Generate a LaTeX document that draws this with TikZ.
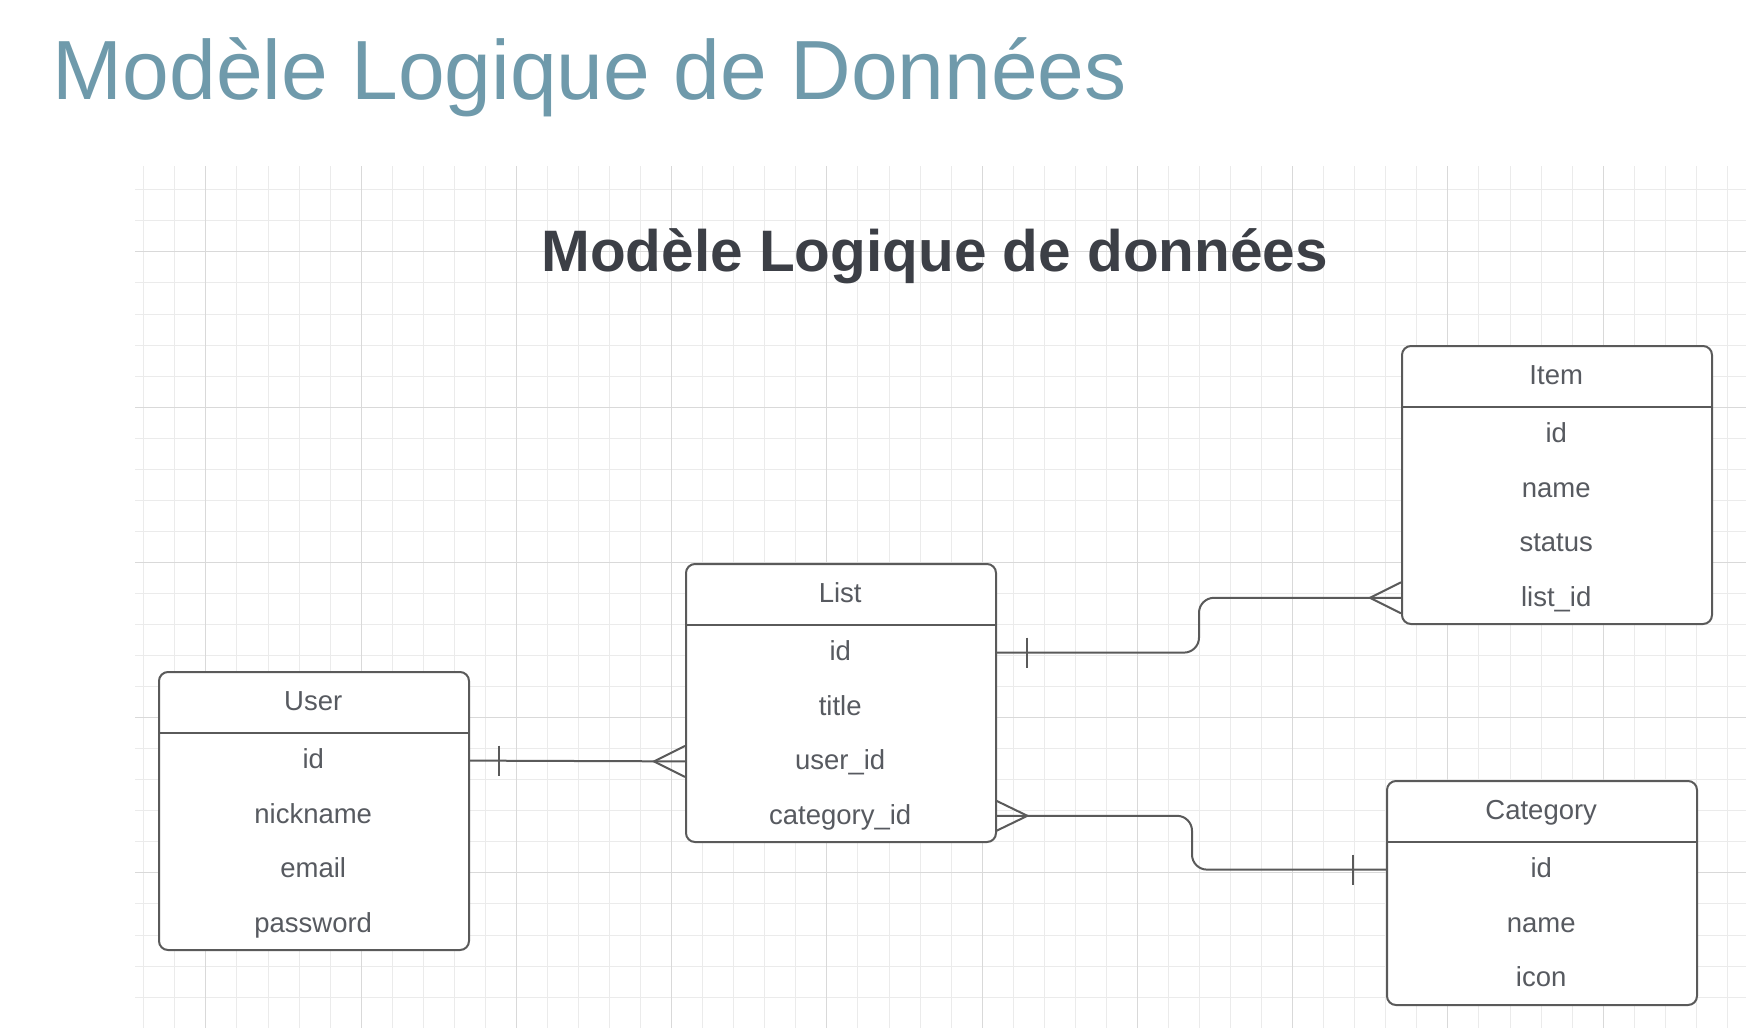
\documentclass[tikz,border=0pt]{standalone}
\usepackage{fontspec}
\setmainfont{Liberation Sans}
\usetikzlibrary{calc}
\definecolor{titleblue}{HTML}{6F9AAB}
\definecolor{gridminor}{HTML}{EBEBEB}
\definecolor{gridmajor}{HTML}{D9D9D9}
\definecolor{boxline}{HTML}{5A5A5A}
\definecolor{txtgray}{HTML}{575A60}
\definecolor{darktitle}{HTML}{3C3F46}
\begin{document}
\begin{tikzpicture}[x=1pt,y=-1pt,
  entbox/.style={draw=boxline, line width=2pt, rounded corners=9pt, minimum width=310pt, inner sep=0pt, fill=white, anchor=north west},
  cell/.style={minimum width=310pt, inner sep=0pt, text height=20pt, text depth=3.5pt, text=txtgray, font=\fontsize{27.5}{32}\selectfont},
  hdr/.style={cell, minimum height=62pt, anchor=north west},
  rowc/.style={cell, minimum height=54pt, anchor=north},
  sep/.style={draw=boxline, line width=2pt},
  conn/.style={draw=boxline, line width=2pt},
  gminor/.style={draw=gridminor, line width=1pt},
  gmajor/.style={draw=gridmajor, line width=1pt}]
\useasboundingbox (0,0) rectangle (1746,1028);
\fill[white] (0,0) rectangle (1746,1028);
% grid
\begin{scope}
\clip (135,166) rectangle (1746,1028);
\foreach \k in {0,...,51} {\pgfmathsetmacro{\gx}{round(143.3+31.05*\k)+0.5}\draw[gminor] (\gx,166) -- (\gx,1028);}
\foreach \k in {0,...,27} {\pgfmathsetmacro{\gy}{round(189.3+31.05*\k)+0.5}\draw[gminor] (135,\gy) -- (1746,\gy);}
\foreach \k in {2,7,...,47} {\pgfmathsetmacro{\gx}{round(143.3+31.05*\k)+0.5}\draw[gmajor] (\gx,166) -- (\gx,1028);}
\foreach \k in {2,7,...,27} {\pgfmathsetmacro{\gy}{round(189.3+31.05*\k)+0.5}\draw[gmajor] (135,\gy) -- (1746,\gy);}
\end{scope}
% titles
\node[anchor=base west, inner sep=0pt, font=\fontsize{84}{90}\selectfont, text=titleblue] (maintitle) at (52.5,99.5) {Modèle Logique de Données};
\node[anchor=base, inner sep=0pt, font=\bfseries\fontsize{58.5}{66}\selectfont, text=darktitle] (subtitle) at (934.7,271) {Modèle Logique de données};
% User
\node[entbox, minimum height=278pt] (user) at (158,671) {};
\node[hdr] (user-title) at (user.north west) {User};
\draw[sep] (user-title.south west) -- (user-title.south east);
\node[rowc] (user-id) at (user-title.south) {id};
\node[rowc] (user-nick) at (user-id.south) {nickname};
\node[rowc] (user-email) at (user-nick.south) {email};
\node[rowc] (user-pw) at (user-email.south) {password};
% List
\node[entbox, minimum height=278pt] (list) at (685,563) {};
\node[hdr] (list-title) at (list.north west) {List};
\draw[sep] (list-title.south west) -- (list-title.south east);
\node[rowc] (list-id) at (list-title.south) {id};
\node[rowc] (list-title2) at (list-id.south) {title};
\node[rowc] (list-userid) at (list-title2.south) {user\_id};
\node[rowc] (list-catid) at (list-userid.south) {category\_id};
% Item
\node[entbox, minimum height=278pt] (item) at (1401,345) {};
\node[hdr] (item-title) at (item.north west) {Item};
\draw[sep] (item-title.south west) -- (item-title.south east);
\node[rowc] (item-id) at (item-title.south) {id};
\node[rowc] (item-name) at (item-id.south) {name};
\node[rowc] (item-status) at (item-name.south) {status};
\node[rowc] (item-listid) at (item-status.south) {list\_id};
% Category
\node[entbox, minimum height=224pt] (cat) at (1386,780) {};
\node[hdr] (cat-title) at (cat.north west) {Category};
\draw[sep] (cat-title.south west) -- (cat-title.south east);
\node[rowc] (cat-id) at (cat-title.south) {id};
\node[rowc] (cat-name) at (cat-id.south) {name};
\node[rowc] (cat-icon) at (cat-name.south) {icon};
% helper x positions for the bends
\coordinate (bendA) at (1199,0);
\coordinate (bendB) at (1192,0);
% User -- List
\draw[conn] (user-id.east) -- (list-userid.west);
\draw[conn] ($(user-id.east)+(31,-15)$) -- ($(user-id.east)+(31,15)$);
\draw[conn] ($(list-userid.west)+(0,-15.5)$) -- ($(list-userid.west)+(-31,0)$) -- ($(list-userid.west)+(0,15.5)$);
% List -- Item
\draw[conn, rounded corners=15pt] (list-id.east) -| (bendA |- item-listid.west) -- (item-listid.west);
\draw[conn] ($(list-id.east)+(32,-15)$) -- ($(list-id.east)+(32,15)$);
\draw[conn] ($(item-listid.west)+(0,-15.5)$) -- ($(item-listid.west)+(-31,0)$) -- ($(item-listid.west)+(0,15.5)$);
% List -- Category
\draw[conn, rounded corners=15pt] (list-catid.east) -| (bendB |- cat-id.west) -- (cat-id.west);
\draw[conn] ($(list-catid.east)+(0,-15.5)$) -- ($(list-catid.east)+(32,0)$) -- ($(list-catid.east)+(0,15.5)$);
\draw[conn] ($(cat-id.west)+(-33,-15)$) -- ($(cat-id.west)+(-33,15)$);
\end{tikzpicture}
\end{document}
